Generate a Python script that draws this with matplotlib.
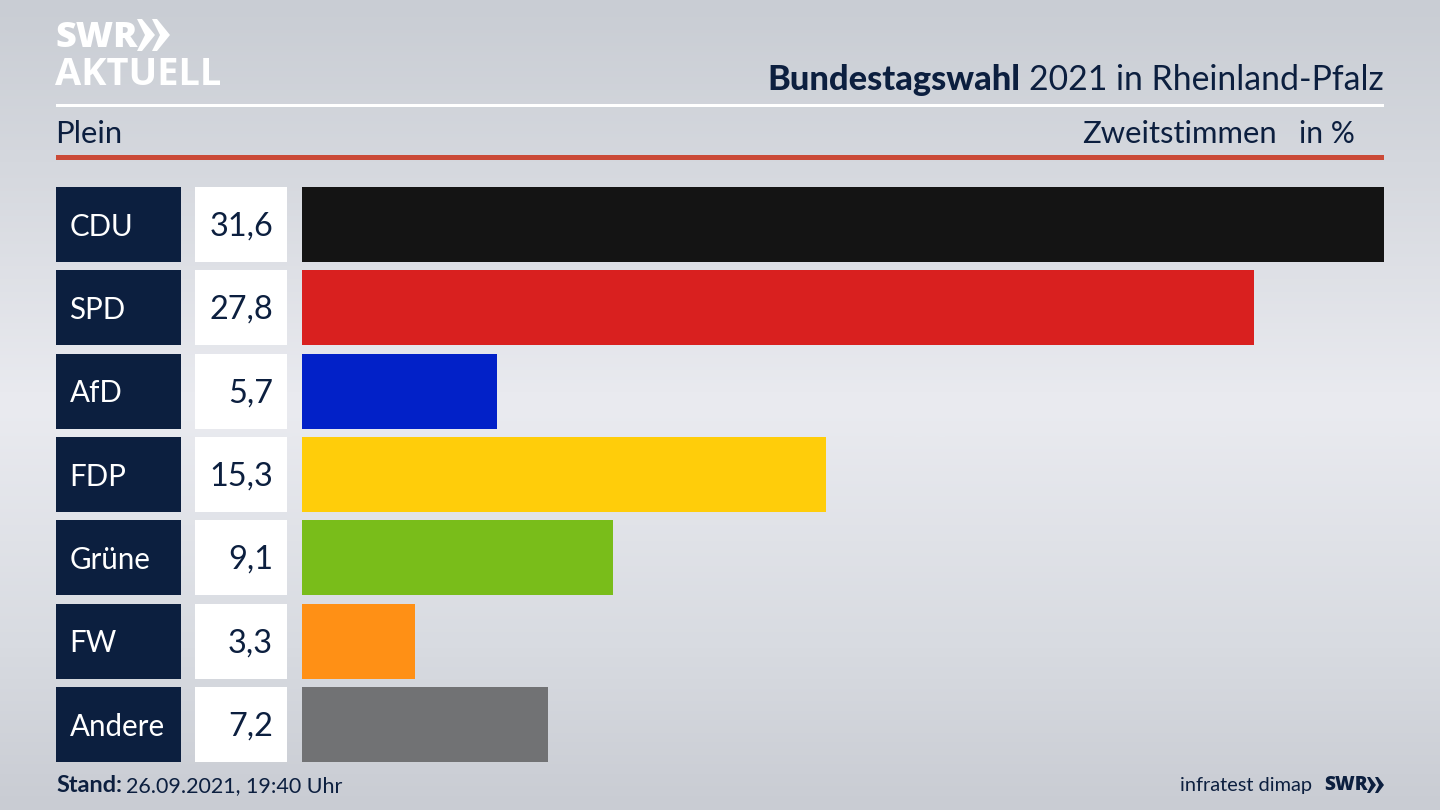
import numpy as np
import matplotlib
matplotlib.use("Agg")
import matplotlib.pyplot as plt
from matplotlib.colors import LinearSegmentedColormap
from matplotlib.patches import Polygon, Rectangle

parties = ["CDU", "SPD", "AfD", "FDP", "Grüne", "FW", "Andere"]
values = [31.6, 27.8, 5.7, 15.3, 9.1, 3.3, 7.2]
colors = ["#141414", "#d9201f", "#0221c8", "#ffcd0a", "#79bd1a", "#ff9015", "#717274"]
value_labels = ["31,6", "27,8", "5,7", "15,3", "9,1", "3,3", "7,2"]

W, H = 1440, 810
NAVY = "#0c1f3f"
FONT = "Lato"
plt.rcParams["font.family"] = [FONT, "DejaVu Sans"]

fig = plt.figure(figsize=(W / 100, H / 100), dpi=100)


def axes_px(x0, y0, x1, y1, **kw):
    return fig.add_axes([x0 / W, 1 - y1 / H, (x1 - x0) / W, (y1 - y0) / H], **kw)


def px(size):
    return size * 0.72


# background gradient
bg = axes_px(0, 0, W, H)
cmap = LinearSegmentedColormap.from_list(
    "bg", [(0, "#c9cdd4"), (0.2, "#d5d8de"), (0.5, "#eaebf0"), (0.8, "#d8dbe1"), (1, "#c9ccd3")]
)
bg.imshow(np.linspace(0, 1, 256).reshape(-1, 1), cmap=cmap, aspect="auto",
          extent=(0, W, H, 0), interpolation="bilinear")
bg.set_xlim(0, W)
bg.set_ylim(H, 0)
bg.axis("off")

# header rules
bg.add_patch(Rectangle((56, 104), 1328, 3, color="white", lw=0))
bg.add_patch(Rectangle((56, 155), 1328, 5, color="#cb4a37", lw=0))

# logo
bg.text(55, 38, "SWR", color="white", fontsize=px(36), fontweight="black", family="Open Sans",
        va="center", ha="left")
bg.text(55, 75, "AKTUELL", color="white", fontsize=px(38), fontweight="bold", family="Open Sans",
        va="center", ha="left")
for dx in (0, 15):
    x = 137 + dx
    bg.add_patch(Polygon([(x, 19), (x + 5, 19), (x + 18, 35), (x + 5, 51), (x, 51), (x + 8, 35)],
                         closed=True, color="white", lw=0))

# header text
t = bg.text(1384, 80, "2021 in Rheinland-Pfalz", color=NAVY, fontsize=px(33.8), va="center", ha="right")
fig.canvas.draw()
ext = t.get_window_extent()
bg.text(ext.x0 - 9, 80, "Bundestagswahl", color=NAVY, fontsize=px(34.4), fontweight="black",
        va="center", ha="right", family="Lato")
bg.text(55, 134, "Plein", color=NAVY, fontsize=px(31), va="center", ha="left")
bg.text(1277, 134, "Zweitstimmen", color=NAVY, fontsize=px(31), va="center", ha="right")
bg.text(1355, 134, "in %", color=NAVY, fontsize=px(30), va="center", ha="right")

# bars
y = np.arange(len(parties))
ylim = (len(parties) - 1 + 0.45, -0.45)
top, bottom = 187, 762


def row_axes(x0, x1):
    a = axes_px(x0, top, x1, bottom)
    a.set_ylim(*ylim)
    a.axis("off")
    a.patch.set_alpha(0)
    return a


lab = row_axes(56, 181)
lab.set_xlim(0, 1)
lab.barh(y, [1] * len(y), height=0.9, color=NAVY, lw=0)
for yi, name in zip(y, parties):
    lab.text(13.5 / 125, yi + 0.025, name, color="white", fontsize=px(29.5), va="center", ha="left")

box = row_axes(195, 287)
box.set_xlim(0, 1)
box.barh(y, [1] * len(y), height=0.9, color="white", lw=0)
for yi, s in zip(y, value_labels):
    box.text(78 / 92, yi + 0.025, s, color=NAVY, fontsize=px(32.5), va="center", ha="right")

bars = row_axes(301.5, 1384)
bars.set_xlim(0, max(values))
bars.barh(y, values, height=0.9, color=colors, lw=0)

# footer
t2 = bg.text(56, 786, "Stand:", color=NAVY, fontsize=px(23.5), fontweight="bold", va="center", ha="left")
fig.canvas.draw()
e2 = t2.get_window_extent()
bg.text(e2.x1 + 4, 786, "26.09.2021, 19:40 Uhr", color=NAVY, fontsize=px(21.5), va="center", ha="left")
bg.text(1312, 785, "infratest dimap", color=NAVY, fontsize=px(20), va="center", ha="right")
bg.text(1324, 785, "SWR", color=NAVY, fontsize=px(19), fontweight="black", family="Open Sans",
        va="center", ha="left")
for dx in (0, 8):
    x = 1367 + dx
    bg.add_patch(Polygon([(x, 777), (x + 3, 777), (x + 9, 785), (x + 3, 793), (x, 793), (x + 4, 785)],
                         closed=True, color=NAVY, lw=0))

fig.savefig("out.png", dpi=100)
